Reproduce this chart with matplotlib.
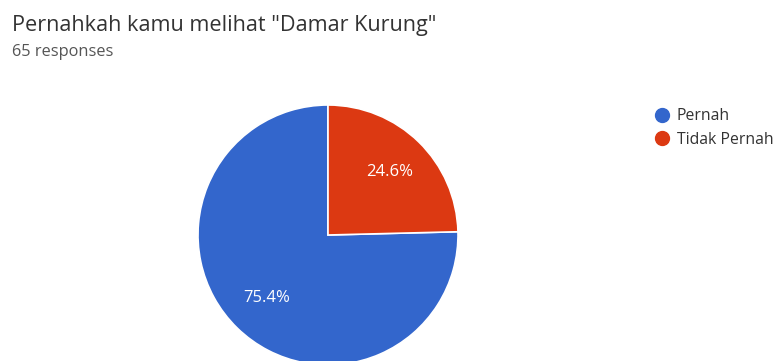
import matplotlib
matplotlib.use("Agg")
import matplotlib.pyplot as plt
from matplotlib.lines import Line2D

plt.rcParams['font.family'] = ['Open Sans', 'DejaVu Sans']

title = 'Pernahkah kamu melihat "Damar Kurung"'
subtitle = "65 responses"
categories = ["Pernah", "Tidak Pernah"]
values = [75.4, 24.6]
colors = ["#3366CC", "#DC3912"]

fig = plt.figure(figsize=(7.81, 3.61), dpi=100)
W, H = 781, 361

cx, cy, r = 328, 235, 130
ax = fig.add_axes([(cx - r) / W, (H - cy - r) / H, 2 * r / W, 2 * r / H])
wedges, texts, autotexts = ax.pie(
    values, colors=colors, startangle=90, counterclock=True,
    autopct='%1.1f%%', pctdistance=0.68,
    wedgeprops=dict(edgecolor='white', linewidth=1.2),
    textprops=dict(color='white', fontsize=12),
)
for w in wedges:
    w.set_clip_on(False)
ax.set_xlim(-1, 1)
ax.set_ylim(-1, 1)
ax.set_aspect('equal')
ax.axis('off')

fig.text(12 / W, 1 - 31 / H, title, fontsize=15.6, color='#333333', ha='left', va='baseline')
fig.text(12 / W, 1 - 56 / H, subtitle, fontsize=11.8, color='#555555', ha='left', va='baseline')

handles = [Line2D([0], [0], marker='o', linestyle='none', markersize=10,
                  markerfacecolor=c, markeredgecolor=c) for c in colors]
fig.legend(handles, categories, loc='upper left', bbox_to_anchor=(653 / W, 1 - 108 / H),
           frameon=False, fontsize=11.3, handletextpad=0.3, labelspacing=0.5,
           handlelength=1.2, borderaxespad=0, borderpad=0, labelcolor='#333333')

fig.savefig("out.png", dpi=100, facecolor='white')
